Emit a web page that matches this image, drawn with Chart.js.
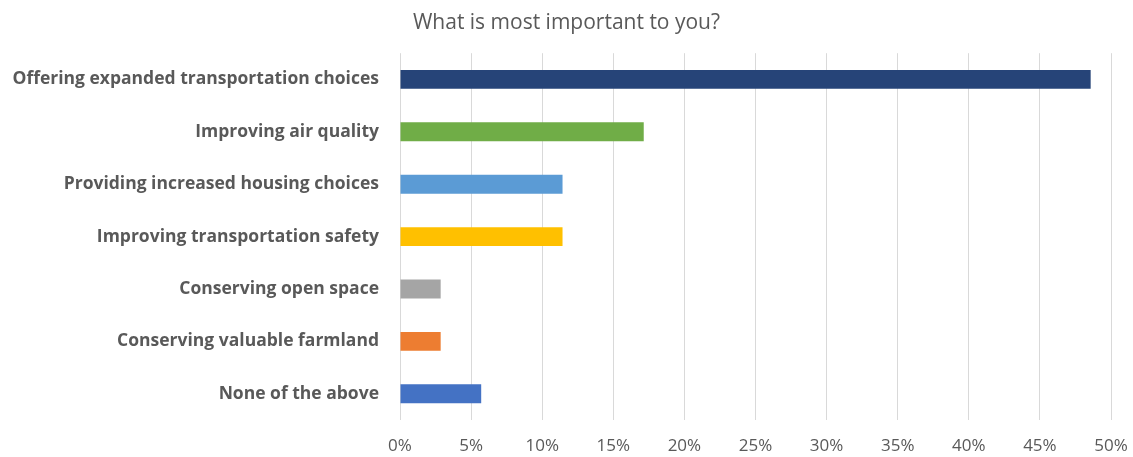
<!DOCTYPE html>
<html>
<head>
<meta charset="utf-8">
<script src="https://cdn.jsdelivr.net/npm/chart.js@4/dist/chart.umd.min.js"></script>
<style>
  html, body { margin: 0; padding: 0; background: #fff; }
  #wrap { width: 1133px; height: 457px; }
</style>
</head>
<body>
<div id="wrap"><canvas id="chart"></canvas></div>
<script>
// survey answers, share of respondents (%)
const categories = [
  'Offering expanded transportation choices',
  'Improving air quality',
  'Providing increased housing choices',
  'Improving transportation safety',
  'Conserving open space',
  'Conserving valuable farmland',
  'None of the above'
];
const shares = [48.57, 17.14, 11.43, 11.43, 2.86, 2.86, 5.71];
const barColors = ['#264478', '#70AD47', '#5B9BD5', '#FFC000', '#A5A5A5', '#ED7D31', '#4472C4'];
const xTicks = [0, 5, 10, 15, 20, 25, 30, 35, 40, 45, 50];

const textColor = '#595959';
const fontFamily = "'Open Sans', 'Liberation Sans', sans-serif";

const ctx = document.getElementById('chart').getContext('2d');

new Chart(ctx, {
  type: 'bar',
  data: {
    labels: categories,
    datasets: [{
      data: shares,
      backgroundColor: barColors,
      borderWidth: 0,
      barPercentage: 0.36,
      categoryPercentage: 1
    }]
  },
  options: {
    indexAxis: 'y',
    responsive: true,
    maintainAspectRatio: false,
    animation: false,
    layout: { padding: 0 },
    plugins: {
      legend: { display: false },
      tooltip: { enabled: false },
      title: {
        display: true,
        text: 'What is most important to you?',
        color: textColor,
        font: { family: fontFamily, size: 21, weight: 'normal', lineHeight: 1.2 },
        padding: { top: 10, bottom: 18 }
      }
    },
    scales: {
      x: {
        min: 0,
        max: 50,
        afterBuildTicks: (scale) => { scale.ticks = xTicks.map(v => ({ value: v })); },
        afterFit: (scale) => {
          scale.height = 37;
          // room on the right for the 50% label, title stays centred on the canvas
          scale.paddingLeft = 0;
          scale.paddingRight = 22;
        },
        ticks: {
          color: textColor,
          font: { family: fontFamily, size: 17 },
          padding: 16,
          callback: (value) => value + '%'
        },
        grid: { color: '#D9D9D9', lineWidth: 1, drawTicks: false },
        border: { display: false }
      },
      y: {
        afterFit: (scale) => { scale.width = 400; },
        ticks: {
          color: textColor,
          font: { family: fontFamily, size: 17.5, weight: 'bold' },
          padding: 21
        },
        grid: { display: false, drawTicks: false },
        border: { display: false }
      }
    }
  }
});
</script>
</body>
</html>
